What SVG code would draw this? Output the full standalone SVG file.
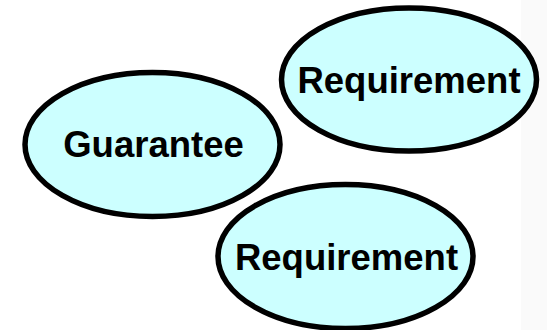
<svg xmlns="http://www.w3.org/2000/svg" width="547" height="330" viewBox="0 0 547 330">
  <style>
    .node ellipse { fill: #CCFFFF; stroke: #000000; stroke-width: 5.5; }
    .node text { font-family: "Liberation Sans", Arial, sans-serif; font-weight: bold; font-size: 36.5px; fill: #000000; text-anchor: middle; }
  </style>
  <!-- background -->
  <rect x="0" y="0" width="547" height="330" fill="#FFFFFF"/>
  <!-- faint shaded band along the right edge -->
  <rect x="521" y="0" width="26" height="330" fill="#FAFAFA"/>
  <g id="connectors"></g>
  <g id="guarantee" class="node">
    <ellipse cx="152.5" cy="144.5" rx="127.5" ry="72"/>
    <text x="153.5" y="156.5">Guarantee</text>
  </g>
  <g id="requirement-top" class="node">
    <ellipse cx="409" cy="79.5" rx="127.5" ry="71.5"/>
    <text x="409" y="93">Requirement</text>
  </g>
  <g id="requirement-bottom" class="node">
    <ellipse cx="345.5" cy="256.5" rx="127.5" ry="72"/>
    <text x="346.5" y="269.5">Requirement</text>
  </g>
</svg>
